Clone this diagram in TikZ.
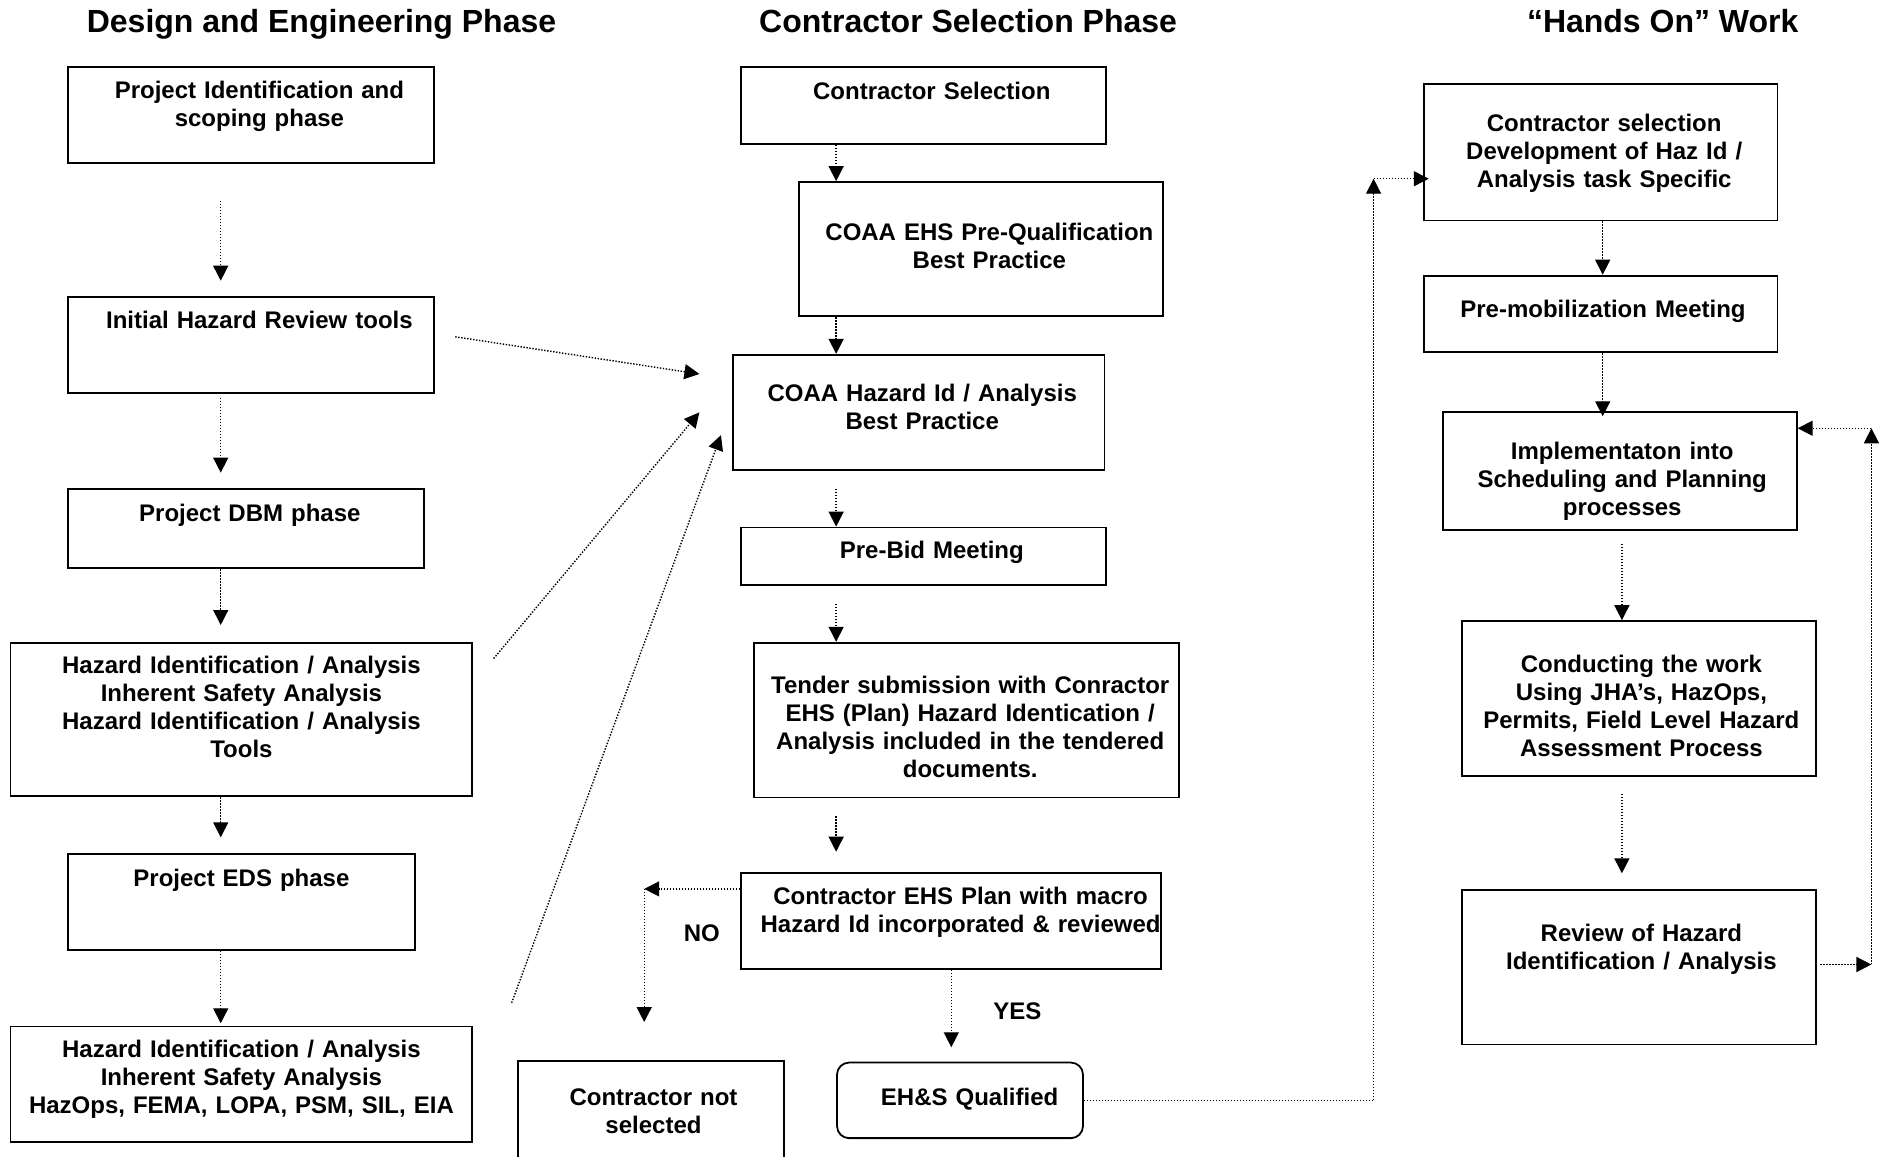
\documentclass[tikz,border=0pt]{standalone}
\usepackage{fontspec}
\setmainfont{Liberation Sans}
\usetikzlibrary{arrows.meta, positioning}

\begin{document}
\begin{tikzpicture}[x=0.6pt, y=-0.6pt,
    >={Triangle[length=7.5pt,width=7.5pt]},
    every node/.style={font=\bfseries\fontsize{12}{14}\selectfont},
    phase/.style={font=\bfseries\fontsize{16}{19}\selectfont, anchor=base},
    box/.style={draw, line width=0.9pt, inner sep=0pt, anchor=north west, align=center},
    nudge/.style={execute at begin node={\leftskip=#1 plus 1fil\rightskip=-#1 plus 1fil}},
    dots/.style={line width=0.7pt, dash pattern=on 0.7pt off 0.8pt},
    flow/.style={dots, ->}]

    \useasboundingbox (0,0) rectangle (1568,964);

    % column titles
    \node[phase] (t_design) at (268,27) {Design and Engineering Phase};
    \node[phase] (t_select) at (807,27) {Contractor Selection Phase};
    \node[phase] (t_hands)  at (1386,27) {“Hands On” Work};

    % design and engineering
    \node[box, nudge=4.2pt, text width=183pt, text height=15.6pt, text depth=32.4pt] (pi) at (56,55) {Project Identification and\\scoping phase};
    \node[box, nudge=4.2pt, text width=183pt, text height=15.6pt, text depth=32.4pt] (ihr) at (56,247) {Initial Hazard Review tools};
    \node[box, nudge=1.8pt, text width=178.2pt, text height=16.2pt, text depth=23.4pt] (dbm) at (56,407) {Project DBM phase};
    \node[box, text width=231pt, text height=15.6pt, text depth=61.2pt] (hia_1) at (8,535) {Hazard Identification / Analysis\\Inherent Safety Analysis\\Hazard Identification / Analysis\\Tools};
    \node[box, text width=173.4pt, text height=16.2pt, text depth=31.8pt] (eds) at (56,711) {Project EDS phase};
    \node[box, text width=231pt, text height=15.6pt, text depth=42pt] (hia_2) at (8,855) {Hazard Identification / Analysis\\Inherent Safety Analysis\\HazOps, FEMA, LOPA, PSM, SIL, EIA};

    % contractor selection
    \node[box, nudge=4.2pt, text width=182.4pt, text height=16.2pt, text depth=22.2pt] (csel) at (617,55) {Contractor Selection};
    \node[box, nudge=4.2pt, text width=182.4pt, text height=29.4pt, text depth=37.8pt] (preq) at (665,151) {COAA EHS Pre-Qualification\\Best Practice};
    \node[box, nudge=1.8pt, text width=186pt, text height=23.4pt, text depth=34.2pt] (coaa) at (610,295) {COAA Hazard Id / Analysis\\Best Practice};
    \node[box, nudge=4.2pt, text width=182.4pt, text height=15.6pt, text depth=13.2pt] (prebid) at (617,439) {Pre-Bid Meeting};
    \node[box, nudge=1.8pt, text width=212.4pt, text height=25.2pt, text depth=52.2pt] (tender) at (628,535) {Tender submission with Conractor\\EHS (Plan) Hazard Identication /\\Analysis included in the tendered\\documents.};
    \node[box, nudge=4.8pt, text width=210pt, text height=15.6pt, text depth=32.4pt] (plan) at (617,727) {Contractor EHS Plan with macro\\Hazard Id incorporated \& reviewed};
    \node[box, nudge=1.2pt, text width=133.2pt, text height=22.2pt, text depth=32.4pt] (notsel) at (431,884) {Contractor not\\selected};
    \node[box, nudge=4.8pt, rounded corners=6pt, text width=123pt, text height=21.6pt, text depth=16.2pt] (qual) at (697,885) {EH\&S Qualified};
    \node (no)  at (585,778) {NO};
    \node (yes) at (848,843) {YES};

    % hands on work
    \node[box, nudge=1.8pt, text width=177pt, text height=24pt, text depth=44.4pt] (hsel) at (1186,69) {Contractor selection\\Development of Haz Id /\\Analysis task Specific};
    \node[box, nudge=1.2pt, text width=177pt, text height=21pt, text depth=17.4pt] (premob) at (1186,229) {Pre-mobilization Meeting};
    \node[box, nudge=1.2pt, text width=177pt, text height=23.4pt, text depth=35.4pt] (impl) at (1202,343) {Implementaton into\\Scheduling and Planning\\processes};
    \node[box, nudge=1.2pt, text width=177pt, text height=25.8pt, text depth=51.6pt] (work) at (1218,517) {Conducting the work\\Using JHA’s, HazOps,\\Permits, Field Level Hazard\\Assessment Process};
    \node[box, nudge=1.2pt, text width=177pt, text height=25.8pt, text depth=51.6pt] (review) at (1218,741) {Review of Hazard\\Identification / Analysis};

    \coordinate (lane_de) at (184,0);
    \coordinate (lane_cs) at (697,0);
    \coordinate (lane_yes) at (793,0);
    \coordinate (lane_h1) at (1336,0);
    \coordinate (lane_h2) at (1352,0);
    \coordinate (no_turn) at (537,741);
    \coordinate (ho_in) at (1145,149);
    \coordinate (fb_low) at (1560,804);
    \coordinate (fb_top) at (1560,357);

    \path[flow]
    (pi.south -| lane_de)     edge [shorten <=18.6pt, shorten >=7.8pt] (ihr.north -| lane_de)
    (ihr.south -| lane_de)    edge [shorten <=1.8pt, shorten >=7.8pt]  (dbm.north -| lane_de)
    (dbm.south -| lane_de)    edge [shorten >=8.4pt]                   (hia_1.north -| lane_de)
    (hia_1.south -| lane_de)  edge [shorten >=7.8pt]                   (eds.north -| lane_de)
    (eds.south -| lane_de)    edge [shorten >=1.2pt]                   (hia_2.north -| lane_de)
    (csel.south -| lane_cs)   edge                                     (preq.north -| lane_cs)
    (preq.south -| lane_cs)   edge                                     (coaa.north -| lane_cs)
    (coaa.south -| lane_cs)   edge [shorten <=9pt]                     (prebid.north -| lane_cs)
    (prebid.south -| lane_cs) edge [shorten <=9pt]                     (tender.north -| lane_cs)
    (tender.south -| lane_cs) edge [shorten <=9pt, shorten >=10.2pt]   (plan.north -| lane_cs)
    (plan.south -| lane_yes)  edge [shorten >=7.2pt]                   (qual.north -| lane_yes)
    (hsel.south -| lane_h1)   edge                                     (premob.north -| lane_h1)
    (premob.south -| lane_h1) edge [shorten >=-2.4pt]                  (impl.north -| lane_h1)
    (impl.south -| lane_h2)   edge [shorten <=6.6pt]                   (work.north -| lane_h2)
    (work.south -| lane_h2)   edge [shorten <=8.4pt, shorten >=7.8pt]  (review.north -| lane_h2)
    ;

    % links into the hazard id best practice
    \draw[flow] ([shift={(17,-7)}]ihr.east) -- ([shift={(-27,-32)}]coaa.west);
    \draw[flow] ([shift={(17,14)}]hia_1.north east) -- ([shift={(-27,0)}]coaa.west);
    \draw[flow] ([shift={(32,-19)}]hia_2.north east) -- ([shift={(-9,19)}]coaa.west);

    % no branch
    \draw[flow] (plan.west |- no_turn) -- (no_turn);
    \draw[flow, shorten >=19.2pt] (no_turn) -- (notsel.north -| no_turn);

    % qualified into hands on work
    \draw[dots] (qual.east) -- (qual.east -| ho_in);
    \draw[flow] (qual.east -| ho_in) -- (ho_in);
    \draw[flow, shorten >=-3pt] (ho_in) -- (ho_in -| hsel.west);

    % review loop
    \draw[flow, shorten <=1.8pt] (review.east |- fb_low) -- (fb_low);
    \draw[flow] (fb_low) -- (fb_top);
    \draw[flow] (fb_top) -- (fb_top -| impl.east);
\end{tikzpicture}
\end{document}
